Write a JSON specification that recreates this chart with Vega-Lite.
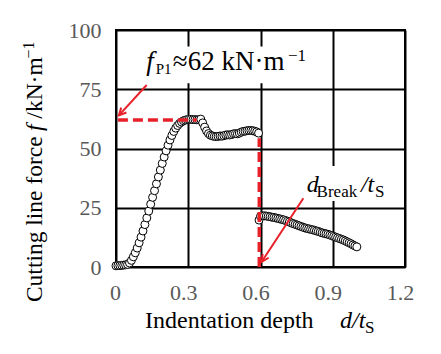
{
  "$schema": "https://vega.github.io/schema/vega-lite/v6.json",
  "width": 289,
  "height": 237,
  "autosize": "none",
  "padding": {"left": 116, "top": 30, "right": 36, "bottom": 87},
  "background": "white",
  "config": {
    "font": "Liberation Serif",
    "view": {"stroke": "black", "strokeWidth": 2},
    "style": {
      "guide-label": {"font": "Liberation Serif", "fontSize": 22, "fill": "#595959"}
    },
    "axis": {
      "grid": true,
      "gridColor": "black",
      "gridWidth": 2,
      "gridOpacity": 1,
      "domain": false,
      "ticks": false,
      "labelFont": "Liberation Serif",
      "labelFontSize": 22,
      "labelColor": "#595959",
      "labelFlush": false,
      "title": null
    }
  },
  "layer": [
    {
      "data": {"values": [
        {"x": 0.12, "x2": 0.79, "y": 77.5, "y2": 93},
        {"x": 0.78, "x2": 1.12, "y": 27.8, "y2": 42.6}
      ]},
      "mark": {"type": "rect", "fill": "white", "stroke": null},
      "encoding": {
        "x": {"field": "x", "type": "quantitative", "scale": {"domain": [0, 1.2], "nice": false, "zero": false},
          "axis": {"values": [0, 0.3, 0.6, 0.9, 1.2], "labelExpr": "datum.value == 0 ? '0' : format(datum.value, '.1f')", "labelPadding": 15,
            "labelFont": "Liberation Serif, Times New Roman, serif", "labelFontSize": 22, "labelColor": "#595959", "labelFlush": false,
            "labelOffset": {"condition": {"test": "datum.value == 0", "value": -1}, "value": -5}}},
        "x2": {"field": "x2"},
        "y": {"field": "y", "type": "quantitative", "scale": {"domain": [0, 100], "nice": false},
          "axis": {"values": [0, 25, 50, 75, 100], "labelPadding": 15, "labelFont": "Liberation Serif, Times New Roman, serif", "labelFontSize": 22, "labelColor": "#595959", "labelFlush": false}},
        "y2": {"field": "y2"}
      }
    },
    {
      "data": {"values": [
        {"d": 0.000, "f": 0.5}, {"d": 0.008, "f": 0.6}, {"d": 0.016, "f": 0.6}, {"d": 0.024, "f": 0.7},
        {"d": 0.032, "f": 0.8}, {"d": 0.040, "f": 0.9}, {"d": 0.048, "f": 1.1}, {"d": 0.056, "f": 1.7},
        {"d": 0.064, "f": 2.8}, {"d": 0.072, "f": 4.3}, {"d": 0.080, "f": 6.0}, {"d": 0.088, "f": 8.0},
        {"d": 0.096, "f": 10.2}, {"d": 0.104, "f": 12.6}, {"d": 0.112, "f": 15.2}, {"d": 0.120, "f": 17.9},
        {"d": 0.128, "f": 20.7}, {"d": 0.136, "f": 23.6}, {"d": 0.144, "f": 26.5}, {"d": 0.152, "f": 29.4},
        {"d": 0.160, "f": 32.2}, {"d": 0.168, "f": 35.1}, {"d": 0.176, "f": 38.0}, {"d": 0.184, "f": 40.9},
        {"d": 0.192, "f": 43.7}, {"d": 0.200, "f": 46.4}, {"d": 0.208, "f": 49.0}, {"d": 0.216, "f": 51.4},
        {"d": 0.224, "f": 53.6}, {"d": 0.232, "f": 55.5}, {"d": 0.240, "f": 57.2}, {"d": 0.248, "f": 58.6},
        {"d": 0.256, "f": 59.7}, {"d": 0.264, "f": 60.6}, {"d": 0.272, "f": 61.2}, {"d": 0.280, "f": 61.7},
        {"d": 0.288, "f": 62.0}, {"d": 0.296, "f": 62.2}, {"d": 0.304, "f": 62.3}, {"d": 0.312, "f": 62.3},
        {"d": 0.320, "f": 62.2}, {"d": 0.328, "f": 62.2}, {"d": 0.336, "f": 62.1}, {"d": 0.344, "f": 62.2},
        {"d": 0.352, "f": 62.4}, {"d": 0.360, "f": 60.8}, {"d": 0.368, "f": 59.0}, {"d": 0.376, "f": 57.4},
        {"d": 0.384, "f": 56.3}, {"d": 0.392, "f": 55.6}, {"d": 0.400, "f": 55.3}, {"d": 0.408, "f": 55.1},
        {"d": 0.416, "f": 55.0}, {"d": 0.424, "f": 55.1}, {"d": 0.432, "f": 55.3}, {"d": 0.440, "f": 55.2},
        {"d": 0.448, "f": 55.4}, {"d": 0.456, "f": 55.7}, {"d": 0.464, "f": 55.8}, {"d": 0.472, "f": 55.7},
        {"d": 0.480, "f": 55.9}, {"d": 0.488, "f": 56.2}, {"d": 0.496, "f": 56.3}, {"d": 0.504, "f": 56.2},
        {"d": 0.512, "f": 56.5}, {"d": 0.520, "f": 56.9}, {"d": 0.528, "f": 57.2}, {"d": 0.536, "f": 57.3},
        {"d": 0.544, "f": 57.5}, {"d": 0.552, "f": 57.6}, {"d": 0.560, "f": 57.6}, {"d": 0.568, "f": 57.5},
        {"d": 0.576, "f": 57.3}, {"d": 0.584, "f": 57.0}, {"d": 0.592, "f": 56.5}, {"d": 0.594, "f": 19.8},
        {"d": 0.600, "f": 21.4}, {"d": 0.608, "f": 21.6}, {"d": 0.616, "f": 21.6}, {"d": 0.624, "f": 21.5},
        {"d": 0.632, "f": 21.4}, {"d": 0.640, "f": 21.2}, {"d": 0.648, "f": 21.0}, {"d": 0.656, "f": 20.9},
        {"d": 0.664, "f": 20.7}, {"d": 0.672, "f": 20.5}, {"d": 0.680, "f": 20.3}, {"d": 0.688, "f": 20.1},
        {"d": 0.696, "f": 19.9}, {"d": 0.704, "f": 19.6}, {"d": 0.712, "f": 19.3}, {"d": 0.720, "f": 19.0},
        {"d": 0.728, "f": 18.6}, {"d": 0.736, "f": 18.3}, {"d": 0.744, "f": 18.0}, {"d": 0.752, "f": 17.7},
        {"d": 0.760, "f": 17.4}, {"d": 0.768, "f": 17.1}, {"d": 0.776, "f": 16.8}, {"d": 0.784, "f": 16.5},
        {"d": 0.792, "f": 16.3}, {"d": 0.800, "f": 16.1}, {"d": 0.808, "f": 15.9}, {"d": 0.816, "f": 15.7},
        {"d": 0.824, "f": 15.5}, {"d": 0.832, "f": 15.2}, {"d": 0.840, "f": 15.0}, {"d": 0.848, "f": 14.7},
        {"d": 0.856, "f": 14.4}, {"d": 0.864, "f": 14.2}, {"d": 0.872, "f": 14.0}, {"d": 0.880, "f": 13.8},
        {"d": 0.888, "f": 13.5}, {"d": 0.896, "f": 13.2}, {"d": 0.904, "f": 12.9}, {"d": 0.912, "f": 12.6},
        {"d": 0.920, "f": 12.3}, {"d": 0.928, "f": 12.0}, {"d": 0.936, "f": 11.7}, {"d": 0.944, "f": 11.4},
        {"d": 0.952, "f": 11.0}, {"d": 0.960, "f": 10.6}, {"d": 0.968, "f": 10.2}, {"d": 0.976, "f": 9.8},
        {"d": 0.984, "f": 9.3}, {"d": 0.992, "f": 8.9}, {"d": 1.000, "f": 8.5}
      ]},
      "mark": {"type": "circle", "fill": "white", "stroke": "black", "strokeWidth": 1, "size": 64, "opacity": 1, "fillOpacity": 1},
      "encoding": {
        "x": {"field": "d", "type": "quantitative"},
        "y": {"field": "f", "type": "quantitative"}
      }
    },
    {
      "data": {"values": [
        {"x": 0.008, "x2": 0.335, "y": 62, "y2": 62},
        {"x": 0.595, "x2": 0.595, "y": 0, "y2": 54.3}
      ]},
      "mark": {"type": "rule", "color": "#e8202a", "strokeWidth": 3.5, "strokeDash": [10, 5]},
      "encoding": {
        "x": {"field": "x", "type": "quantitative"},
        "x2": {"field": "x2"},
        "y": {"field": "y", "type": "quantitative"},
        "y2": {"field": "y2"}
      }
    },
    {
      "data": {"values": [
        {"x": 0.1275, "y": 76.8, "x2": 0.012, "y2": 64.0},
        {"x": 0.778, "y": 29.0, "x2": 0.605, "y2": 2.2}
      ]},
      "mark": {"type": "rule", "color": "#e8202a", "strokeWidth": 2},
      "encoding": {
        "x": {"field": "x", "type": "quantitative"},
        "x2": {"field": "x2"},
        "y": {"field": "y", "type": "quantitative"},
        "y2": {"field": "y2"}
      }
    },
    {
      "data": {"values": [{"x": 0.012, "y": 64.0}]},
      "mark": {"type": "point", "shape": "M-0.6,1.2L0,0L0.6,1.2", "filled": false, "stroke": "#e8202a", "strokeWidth": 2, "size": 144, "opacity": 1, "angle": 223.4},
      "encoding": {
        "x": {"field": "x", "type": "quantitative"},
        "y": {"field": "y", "type": "quantitative"}
      }
    },
    {
      "data": {"values": [{"x": 0.605, "y": 2.2}]},
      "mark": {"type": "point", "shape": "M-0.6,1.2L0,0L0.6,1.2", "filled": false, "stroke": "#e8202a", "strokeWidth": 2, "size": 144, "opacity": 1, "angle": 213.3},
      "encoding": {
        "x": {"field": "x", "type": "quantitative"},
        "y": {"field": "y", "type": "quantitative"}
      }
    },
    {
      "data": {"values": [
        {"t": "≈62 kN·m", "x": 0.236, "y": 83.1}
      ]},
      "mark": {"type": "text", "font": "Liberation Serif", "fontSize": 27, "align": "left", "baseline": "alphabetic", "color": "black"},
      "encoding": {
        "x": {"field": "x", "type": "quantitative"},
        "y": {"field": "y", "type": "quantitative"},
        "text": {"field": "t"}
      }
    },
    {
      "data": {"values": [
        {"t": "f", "x": 0.1255, "y": 83.1}
      ]},
      "mark": {"type": "text", "font": "Liberation Serif", "fontSize": 27, "fontStyle": "italic", "align": "left", "baseline": "alphabetic", "color": "black"},
      "encoding": {
        "x": {"field": "x", "type": "quantitative"},
        "y": {"field": "y", "type": "quantitative"},
        "text": {"field": "t"}
      }
    },
    {
      "data": {"values": [
        {"t": "d", "x": 0.792, "y": 31.8},
        {"t": "/t", "x": 1.017, "y": 31.8}
      ]},
      "mark": {"type": "text", "font": "Liberation Serif", "fontSize": 24, "fontStyle": "italic", "align": "left", "baseline": "alphabetic", "color": "black"},
      "encoding": {
        "x": {"field": "x", "type": "quantitative"},
        "y": {"field": "y", "type": "quantitative"},
        "text": {"field": "t"}
      }
    },
    {
      "data": {"values": [
        {"t": "P1", "x": 0.165, "y": 81.3}
      ]},
      "mark": {"type": "text", "font": "Liberation Serif", "fontSize": 15, "align": "left", "baseline": "alphabetic", "color": "black"},
      "encoding": {
        "x": {"field": "x", "type": "quantitative"},
        "y": {"field": "y", "type": "quantitative"},
        "text": {"field": "t"}
      }
    },
    {
      "data": {"values": [
        {"t": "−1", "x": 0.714, "y": 87.0},
        {"t": "Break", "x": 0.833, "y": 29.5},
        {"t": "S", "x": 1.075, "y": 29.5},
        {"t": "S", "x": 1.034, "y": -28.0}
      ]},
      "mark": {"type": "text", "font": "Liberation Serif", "fontSize": 17, "align": "left", "baseline": "alphabetic", "color": "black"},
      "encoding": {
        "x": {"field": "x", "type": "quantitative"},
        "y": {"field": "y", "type": "quantitative"},
        "text": {"field": "t"}
      }
    },
    {
      "data": {"values": [
        {"t": "Indentation depth", "x": 0.1204, "y": -25.9}
      ]},
      "mark": {"type": "text", "font": "Liberation Serif", "fontSize": 24, "align": "left", "baseline": "alphabetic", "color": "black"},
      "encoding": {
        "x": {"field": "x", "type": "quantitative"},
        "y": {"field": "y", "type": "quantitative"},
        "text": {"field": "t"}
      }
    },
    {
      "data": {"values": [
        {"t": "d/t", "x": 0.93, "y": -25.9}
      ]},
      "mark": {"type": "text", "font": "Liberation Serif", "fontSize": 24, "fontStyle": "italic", "align": "left", "baseline": "alphabetic", "color": "black"},
      "encoding": {
        "x": {"field": "x", "type": "quantitative"},
        "y": {"field": "y", "type": "quantitative"},
        "text": {"field": "t"}
      }
    },
    {
      "data": {"values": [
        {"t": "Cutting line force", "x": -0.3085, "y": -14.8},
        {"t": "/kN·m", "x": -0.3085, "y": 62.6}
      ]},
      "mark": {"type": "text", "font": "Liberation Serif", "fontSize": 23.5, "angle": 270, "align": "left", "baseline": "alphabetic", "color": "black"},
      "encoding": {
        "x": {"field": "x", "type": "quantitative"},
        "y": {"field": "y", "type": "quantitative"},
        "text": {"field": "t"}
      }
    },
    {
      "data": {"values": [
        {"t": "f", "x": -0.3085, "y": 57.4}
      ]},
      "mark": {"type": "text", "font": "Liberation Serif", "fontSize": 23.5, "fontStyle": "italic", "angle": 270, "align": "left", "baseline": "alphabetic", "color": "black"},
      "encoding": {
        "x": {"field": "x", "type": "quantitative"},
        "y": {"field": "y", "type": "quantitative"},
        "text": {"field": "t"}
      }
    },
    {
      "data": {"values": [
        {"t": "−1", "x": -0.342, "y": 88.0}
      ]},
      "mark": {"type": "text", "font": "Liberation Serif", "fontSize": 16, "angle": 270, "align": "left", "baseline": "alphabetic", "color": "black"},
      "encoding": {
        "x": {"field": "x", "type": "quantitative"},
        "y": {"field": "y", "type": "quantitative"},
        "text": {"field": "t"}
      }
    }
  ]
}
